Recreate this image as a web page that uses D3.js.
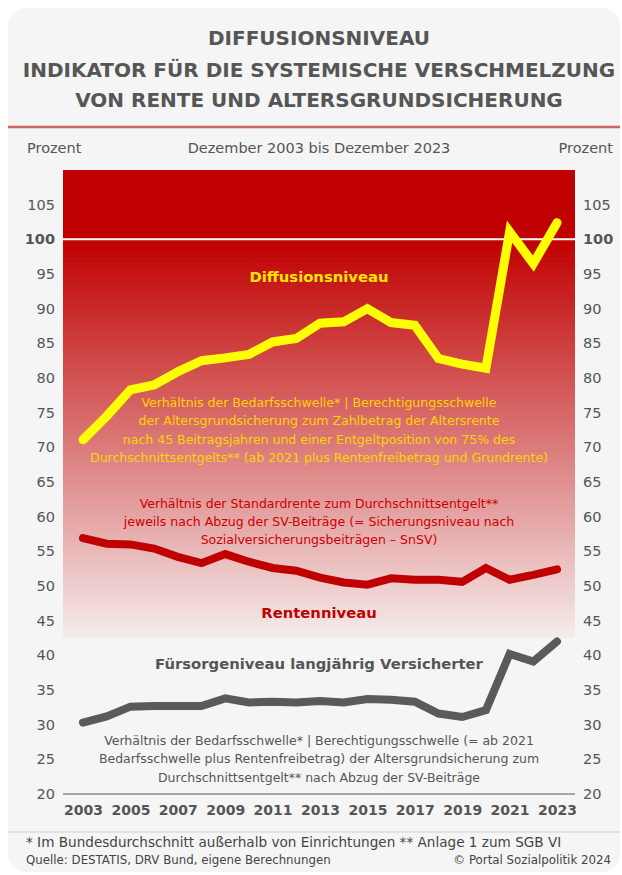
<!DOCTYPE html>
<html>
<head>
<meta charset="utf-8">
<script src="https://cdn.jsdelivr.net/npm/d3@7"></script>
<style>
  html, body { margin: 0; padding: 0; background: #ffffff; }
  svg { display: block; font-family: Verdana, "DejaVu Sans", sans-serif; }
</style>
</head>
<body>
<svg id="chart" width="622" height="875"></svg>
<script>
// ---------- DATA ----------
const years = [2003, 2004, 2005, 2006, 2007, 2008, 2009, 2010, 2011, 2012, 2013,
               2014, 2015, 2016, 2017, 2018, 2019, 2020, 2021, 2022, 2023];
const diffusionsniveau = [71.1, 74.5, 78.3, 79.0, 80.9, 82.5, 82.9, 83.4, 85.2, 85.7, 87.9,
                          88.1, 90.0, 88.0, 87.6, 82.8, 82.0, 81.4, 101.1, 96.5, 102.4];
const rentenniveau = [56.9, 56.1, 56.0, 55.4, 54.2, 53.3, 54.6, 53.5, 52.6, 52.2, 51.2,
                      50.5, 50.2, 51.1, 50.9, 50.9, 50.6, 52.6, 50.9, 51.6, 52.4];
const fuersorgeniveau = [30.3, 31.2, 32.6, 32.7, 32.7, 32.7, 33.8, 33.2, 33.3, 33.2, 33.4,
                         33.2, 33.7, 33.6, 33.3, 31.6, 31.1, 32.1, 40.2, 39.1, 42.0];
const yTicks = [20, 25, 30, 35, 40, 45, 50, 55, 60, 65, 70, 75, 80, 85, 90, 95, 100, 105];
const xTickYears = [2003, 2005, 2007, 2009, 2011, 2013, 2015, 2017, 2019, 2021, 2023];

const titleLines = ["DIFFUSIONSNIVEAU",
                    "INDIKATOR FÜR DIE SYSTEMISCHE VERSCHMELZUNG",
                    "VON RENTE UND ALTERSGRUNDSICHERUNG"];
const diffText = ["Verhältnis der Bedarfsschwelle* | Berechtigungsschwelle",
                  "der Altersgrundsicherung zum Zahlbetrag der Altersrente",
                  "nach 45 Beitragsjahren und einer Entgeltposition von 75% des",
                  "Durchschnittsentgelts** (ab 2021 plus Rentenfreibetrag und Grundrente)"];
const rentText = ["Verhältnis der Standardrente zum Durchschnittsentgelt**",
                  "jeweils nach Abzug der SV-Beiträge (= Sicherungsniveau nach",
                  "Sozialversicherungsbeiträgen – SnSV)"];
const fuersText = ["Verhältnis der Bedarfsschwelle* | Berechtigungsschwelle (= ab 2021",
                   "Bedarfsschwelle plus Rentenfreibetrag) der Altersgrundsicherung zum",
                   "Durchschnittsentgelt** nach Abzug der SV-Beiträge"];

// ---------- LAYOUT ----------
const svg = d3.select("#chart");
const plotLeft = 63, plotRight = 575;
const x = d3.scaleLinear().domain([2003, 2023]).range([83, 557]);
const y = d3.scaleLinear().domain([20, 110]).range([794, 170]);
const cx = 319;

// card
svg.append("rect").attr("x", 8).attr("y", 8).attr("width", 612).attr("height", 864)
  .attr("rx", 18).attr("fill", "#f5f5f5");

// title
const titleY = [45, 77, 107];
svg.selectAll("text.title").data(titleLines).join("text")
  .attr("class", "title")
  .attr("x", cx).attr("y", (d, i) => titleY[i])
  .attr("text-anchor", "middle")
  .attr("font-size", 20).attr("font-weight", "bold").attr("fill", "#565656")
  .text(d => d);

// red separator
svg.append("line").attr("x1", 8).attr("x2", 620).attr("y1", 127).attr("y2", 127)
  .attr("stroke", "#d46262").attr("stroke-width", 2.5);

// header labels
svg.append("text").attr("x", 27).attr("y", 153).attr("font-size", 14.5).attr("fill", "#555").text("Prozent");
svg.append("text").attr("x", 613).attr("y", 153).attr("text-anchor", "end").attr("font-size", 14.5).attr("fill", "#555").text("Prozent");
svg.append("text").attr("x", cx).attr("y", 153).attr("text-anchor", "middle").attr("font-size", 14.5).attr("fill", "#555")
  .text("Dezember 2003 bis Dezember 2023");

// background zones
const defs = svg.append("defs");
const grad = defs.append("linearGradient").attr("id", "redGrad")
  .attr("gradientUnits", "userSpaceOnUse")
  .attr("x1", 0).attr("x2", 0).attr("y1", y(100)).attr("y2", y(42.5));
grad.append("stop").attr("offset", 0).attr("stop-color", "#c00000");
grad.append("stop").attr("offset", 1).attr("stop-color", "#f5ecec");

svg.append("rect").attr("x", plotLeft).attr("width", plotRight - plotLeft)
  .attr("y", y(110)).attr("height", y(100) - y(110)).attr("fill", "#c00000");
svg.append("rect").attr("x", plotLeft).attr("width", plotRight - plotLeft)
  .attr("y", y(100)).attr("height", y(42.5) - y(100)).attr("fill", "url(#redGrad)");
svg.append("line").attr("x1", plotLeft).attr("x2", plotRight).attr("y1", y(100)).attr("y2", y(100))
  .attr("stroke", "#ffffff").attr("stroke-width", 2);

// y axes (left and right)
const leftAxis = d3.axisLeft(y).tickValues(yTicks).tickSize(0).tickPadding(8);
const rightAxis = d3.axisRight(y).tickValues(yTicks).tickSize(0).tickPadding(8);
const gL = svg.append("g").attr("transform", `translate(${plotLeft},0)`).call(leftAxis);
const gR = svg.append("g").attr("transform", `translate(${plotRight},0)`).call(rightAxis);
[gL, gR].forEach(g => {
  g.select(".domain").remove();
  g.selectAll("text").attr("font-size", 14.5).attr("fill", "#555")
    .attr("font-family", 'Verdana, "DejaVu Sans", sans-serif')
    .attr("font-weight", d => d === 100 ? "bold" : "normal");
});

// x axis
const xAxis = d3.axisBottom(x).tickValues(xTickYears).tickFormat(d3.format("d")).tickSize(0).tickPadding(11);
const gX = svg.append("g").attr("transform", `translate(0,${y(20)})`).call(xAxis);
gX.select(".domain").remove();
gX.selectAll("text").attr("font-size", 14).attr("font-weight", "bold").attr("fill", "#555")
  .attr("font-family", 'Verdana, "DejaVu Sans", sans-serif');
svg.append("line").attr("x1", plotLeft).attr("x2", plotRight).attr("y1", y(20)).attr("y2", y(20))
  .attr("stroke", "#8a8a8a").attr("stroke-width", 1.5);

// annotation texts
function block(lines, y0, dy, color, size) {
  svg.append("g").selectAll("text").data(lines).join("text")
    .attr("x", cx).attr("y", (d, i) => y0 + i * dy)
    .attr("text-anchor", "middle").attr("font-size", size).attr("fill", color)
    .text(d => d);
}
block(diffText, 407, 18.4, "#ffd400", 12.5);
block(rentText, 507.5, 18.4, "#cc0000", 12.5);
block(fuersText, 745, 18.4, "#555555", 12.5);

svg.append("text").attr("x", cx).attr("y", 282).attr("text-anchor", "middle")
  .attr("font-size", 14.8).attr("font-weight", "bold").attr("fill", "#ffe600").text("Diffusionsniveau");
svg.append("text").attr("x", cx).attr("y", 618).attr("text-anchor", "middle")
  .attr("font-size", 14.8).attr("font-weight", "bold").attr("fill", "#c00000").text("Rentenniveau");
svg.append("text").attr("x", cx).attr("y", 669).attr("text-anchor", "middle")
  .attr("font-size", 14.8).attr("font-weight", "bold").attr("fill", "#555555").text("Fürsorgeniveau langjährig Versicherter");

// lines
const series = [
  { values: fuersorgeniveau, color: "#5a5a5a", width: 8 },
  { values: rentenniveau, color: "#c00000", width: 8 },
  { values: diffusionsniveau, color: "#ffff00", width: 9 }
];
const lineGen = d3.line().x(d => x(d[0])).y(d => y(d[1]));
series.forEach(s => {
  svg.append("path").datum(years.map((yr, i) => [yr, s.values[i]]))
    .attr("d", lineGen).attr("fill", "none")
    .attr("stroke", s.color).attr("stroke-width", s.width)
    .attr("stroke-linejoin", "miter").attr("stroke-miterlimit", 6).attr("stroke-linecap", "round");
});

// footer
svg.append("line").attr("x1", 8).attr("x2", 620).attr("y1", 832).attr("y2", 832)
  .attr("stroke", "#dddddd").attr("stroke-width", 1.5);
svg.append("text").attr("x", 26).attr("y", 847).attr("font-size", 13.6).attr("fill", "#444")
  .text("* Im Bundesdurchschnitt außerhalb von Einrichtungen ** Anlage 1 zum SGB VI");
svg.append("text").attr("x", 26).attr("y", 864).attr("font-size", 11.8).attr("fill", "#444")
  .text("Quelle: DESTATIS, DRV Bund, eigene Berechnungen");
svg.append("text").attr("x", 611).attr("y", 864).attr("text-anchor", "end").attr("font-size", 11.8).attr("fill", "#444")
  .text("© Portal Sozialpolitik 2024");
</script>
</body>
</html>
